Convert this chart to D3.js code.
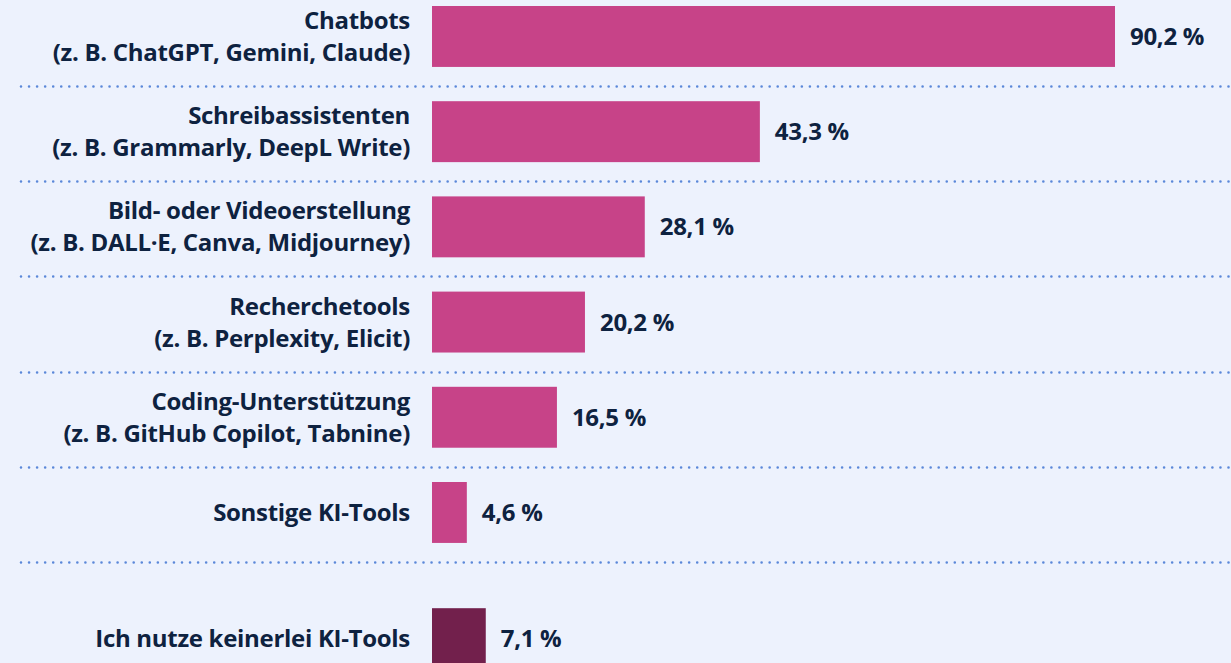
<!DOCTYPE html>
<html>
<head>
<meta charset="utf-8">
<script src="https://cdn.jsdelivr.net/npm/d3@7"></script>
<style>
  html, body { margin: 0; padding: 0; background: #edf2fd; }
  svg { display: block; }
  .label, .value { font-family: "Open Sans", sans-serif; font-weight: 700; fill: #0e2240; letter-spacing: -0.3px; }
</style>
</head>
<body>
<div id="chart"></div>
<script>
var categories = [
  ["Chatbots", "(z. B. ChatGPT, Gemini, Claude)"],
  ["Schreibassistenten", "(z. B. Grammarly, DeepL Write)"],
  ["Bild- oder Videoerstellung", "(z. B. DALL·E, Canva, Midjourney)"],
  ["Recherchetools", "(z. B. Perplexity, Elicit)"],
  ["Coding-Unterstützung", "(z. B. GitHub Copilot, Tabnine)"],
  ["Sonstige KI-Tools"],
  ["Ich nutze keinerlei KI-Tools"]
];
var values = [90.2, 43.3, 28.1, 20.2, 16.5, 4.6, 7.1];
var isNone = [false, false, false, false, false, false, true];

var width = 1231, height = 663,
    barLeft = 432, labelRight = 410,
    step = 95.2, firstTop = 6, lastGap = 31;

var data = categories.map(function(c, i) {
  return {id: i, lines: c, value: values[i], none: isNone[i]};
});

var x = d3.scaleLinear()
    .domain([0, 90.2])
    .range([barLeft, 1115]);

var y = d3.scaleBand()
    .domain(data.map(function(d) { return d.id; }))
    .range([firstTop - 0.18 * step, firstTop - 0.18 * step + data.length * step])
    .paddingInner(0.36)
    .paddingOuter(0.18);

function barTop(d) { return y(d.id) + (d.none ? lastGap : 0); }

var fmt = function(v) { return d3.format(".1f")(v).replace(".", ",") + "\u00A0%"; };

var svg = d3.select("#chart").append("svg")
    .attr("width", width)
    .attr("height", height);

// dotted separators under every row except the last
svg.selectAll("line.sep")
    .data(data.filter(function(d) { return !d.none; }))
  .enter().append("line")
    .attr("class", "sep")
    .attr("x1", 21)
    .attr("x2", width)
    .attr("y1", function(d) { return Math.round(barTop(d) + y.bandwidth() + 19) + 0.5; })
    .attr("y2", function(d) { return Math.round(barTop(d) + y.bandwidth() + 19) + 0.5; })
    .attr("stroke", "#5b88d9")
    .attr("stroke-width", 2.6)
    .attr("stroke-linecap", "round")
    .attr("stroke-dasharray", "0 8.05");

svg.selectAll("rect.bar")
    .data(data)
  .enter().append("rect")
    .attr("class", "bar")
    .attr("x", x(0))
    .attr("y", barTop)
    .attr("width", function(d) { return x(d.value) - x(0); })
    .attr("height", y.bandwidth())
    .attr("fill", function(d) { return d.none ? "#72204c" : "#c74388"; });

var lineH = 32, fontSize = "24px", baseShift = 8.5;
var labels = svg.selectAll("text.label")
    .data(data)
  .enter().append("text")
    .attr("class", "label")
    .attr("text-anchor", "end")
    .style("font-size", fontSize);

labels.selectAll("tspan")
    .data(function(d) {
      var c = barTop(d) + y.bandwidth() / 2, n = d.lines.length;
      return d.lines.map(function(t, j) { return {t: t, y: c + (j - (n - 1) / 2) * lineH + baseShift}; });
    })
  .enter().append("tspan")
    .attr("x", labelRight)
    .attr("y", function(d) { return d.y; })
    .text(function(d) { return d.t; });

svg.selectAll("text.value")
    .data(data)
  .enter().append("text")
    .attr("class", "value")
    .attr("x", function(d) { return x(d.value) + 15; })
    .attr("y", function(d) { return barTop(d) + y.bandwidth() / 2 + baseShift; })
    .style("font-size", fontSize)
    .text(function(d) { return fmt(d.value); });
</script>
</body>
</html>
